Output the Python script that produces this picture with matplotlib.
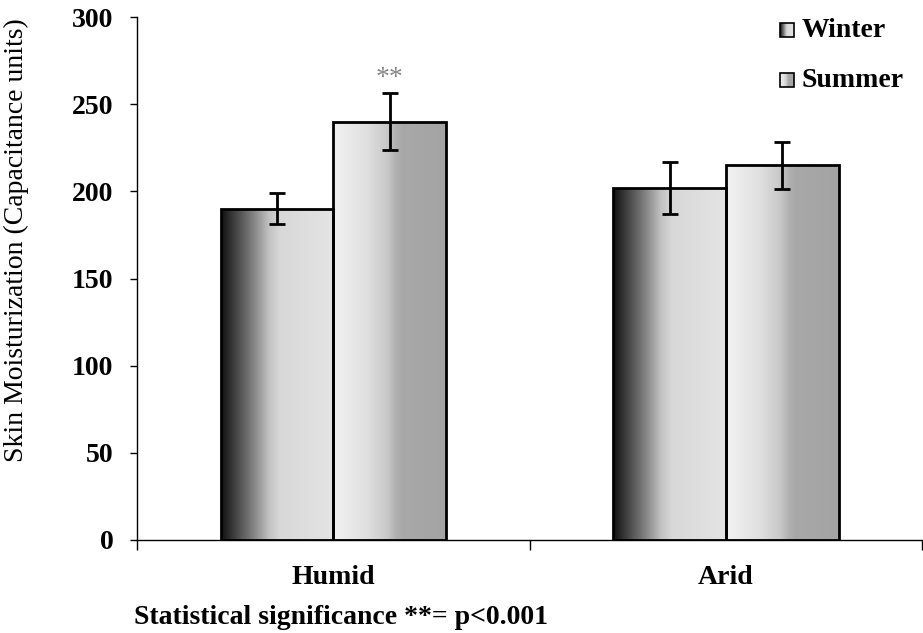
import numpy as np
import matplotlib.pyplot as plt
from matplotlib.patches import Rectangle
from matplotlib.colors import LinearSegmentedColormap

categories = ["Humid", "Arid"]
seasons = ["Winter", "Summer"]
winter = [190, 202]
summer = [240, 215]
winter_err = [9, 15]
summer_err = [16.5, 13.5]

plt.rcParams['font.family'] = ['Liberation Serif', 'DejaVu Serif']

# gradient colormaps for the bars (left -> right)
winter_cmap = LinearSegmentedColormap.from_list("winter_grad", [
    (0.0, "#101010"), (0.12, "#404040"), (0.28, "#808080"),
    (0.42, "#c0c0c0"), (0.52, "#d8d8d8"), (1.0, "#e4e4e4")])
summer_cmap = LinearSegmentedColormap.from_list("summer_grad", [
    (0.0, "#f2f2f2"), (0.3, "#e0e0e0"), (0.48, "#c8c8c8"),
    (0.56, "#b0b0b0"), (0.62, "#a8a8a8"), (1.0, "#a4a4a4")])

fig = plt.figure(figsize=(9.23, 6.33), dpi=100)
ax = fig.add_axes([0.1484, 0.147, 0.851, 0.826])

x = np.arange(len(categories))
width = 0.287
grad = np.linspace(0, 1, 256).reshape(1, -1)


def gradient_bars(xs, heights, cmap):
    bars = ax.bar(xs, heights, width, facecolor="none", edgecolor="black",
                  linewidth=2, zorder=3)
    for b in bars:
        x0, y0 = b.get_x(), b.get_y()
        im = ax.imshow(grad, cmap=cmap, aspect="auto", zorder=2,
                       extent=[x0, x0 + b.get_width(), y0, y0 + b.get_height()])
        im.set_clip_path(b)
    return bars


gradient_bars(x - width / 2, winter, winter_cmap)
gradient_bars(x + width / 2, summer, summer_cmap)

ax.errorbar(x - width / 2, winter, yerr=winter_err, fmt="none", ecolor="black",
            elinewidth=2, capsize=6, capthick=2, zorder=4)
ax.errorbar(x + width / 2, summer, yerr=summer_err, fmt="none", ecolor="black",
            elinewidth=2, capsize=6, capthick=2, zorder=4)

ax.text(x[0] + width / 2, summer[0] + summer_err[0] + 1, "**", ha="center",
        va="bottom", fontsize=20, color="#858585")

ax.set_xlim(-0.5, 1.5)
ax.set_ylim(0, 300)
ax.set_yticks(np.arange(0, 301, 50))
ax.set_xticks([-0.5, 0.5, 1.5])
ax.set_xticklabels([])
ax.set_xticks(x, minor=True)
ax.set_xticklabels(categories, minor=True, fontsize=20, fontweight="bold")
ax.tick_params(axis="x", which="minor", length=0, pad=18)
ax.tick_params(axis="x", which="major", direction="out", length=7, width=1)
ax.tick_params(axis="y", direction="out", length=5, width=1, labelsize=20, pad=12)
for lab in ax.get_yticklabels():
    lab.set_fontweight("bold")

for s in ["top", "right"]:
    ax.spines[s].set_visible(False)
ax.spines["left"].set_linewidth(1)
ax.spines["bottom"].set_linewidth(1)

ax.set_ylabel("Skin Moisturization (Capacitance units)", fontsize=20)
ax.yaxis.set_label_coords(-0.137, 0.574)

# legend with small gradient boxes
cmaps = [winter_cmap, summer_cmap]
for i, season in enumerate(seasons):
    bx, by = (780 - 137) / 785.5, (540 - 37 - 50 * i) / 523
    bw, bh = 14 / 785.5, 14 / 523
    ax.imshow(grad, cmap=cmaps[i], aspect="auto", transform=ax.transAxes,
              extent=[bx, bx + bw, by, by + bh], zorder=5, clip_on=False)
    ax.add_patch(Rectangle((bx, by), bw, bh, transform=ax.transAxes,
                           facecolor="none", edgecolor="black", linewidth=1.2,
                           zorder=6, clip_on=False))
    ax.text(bx + bw + 8 / 785.5, by + bh / 2, season, transform=ax.transAxes,
            ha="left", va="center", fontsize=20, fontweight="bold")

ax.set_xlim(-0.5, 1.5)
ax.set_ylim(0, 300)

fig.text(134 / 923, 1 - 624 / 633, "Statistical significance **= p<0.001",
         ha="left", va="baseline", fontsize=20, fontweight="bold")

fig.savefig("out.png", dpi=100)
